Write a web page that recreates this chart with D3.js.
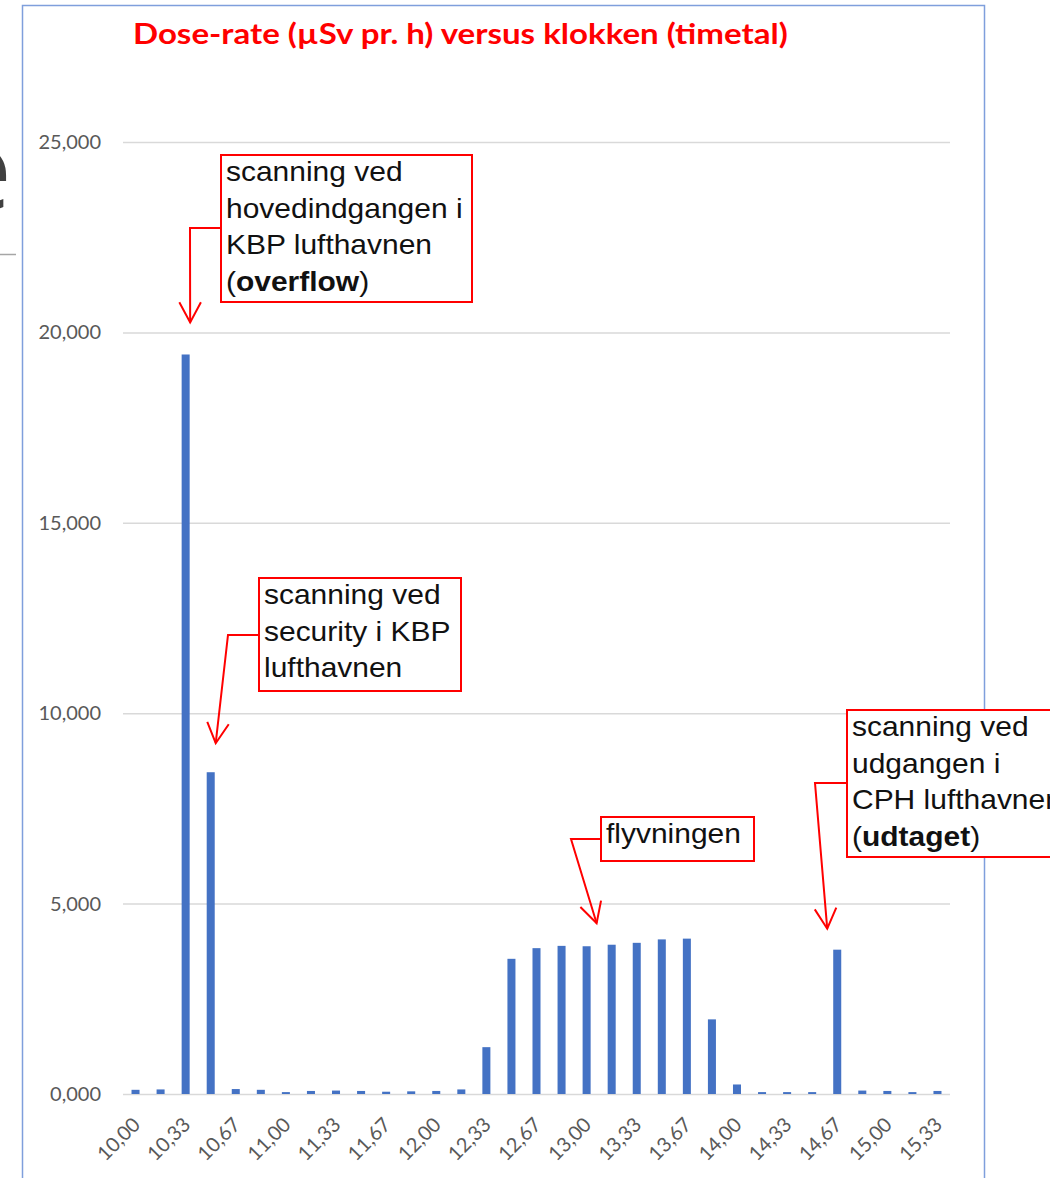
<!DOCTYPE html>
<html>
<head>
<meta charset="utf-8">
<script src="https://cdn.jsdelivr.net/npm/d3@7"></script>
<style>
html, body { margin: 0; padding: 0; background: #fff; }
svg { display: block; }
</style>
</head>
<body>
<svg id="chart" width="1050" height="1178"></svg>
<script>
// klokken (timetal) - hver søjle er 10 min
const categories = [
    "10,00", "10,17", "10,33", "10,50", "10,67", "10,83",
    "11,00", "11,17", "11,33", "11,50", "11,67", "11,83",
    "12,00", "12,17", "12,33", "12,50", "12,67", "12,83",
    "13,00", "13,17", "13,33", "13,50", "13,67", "13,83",
    "14,00", "14,17", "14,33", "14,50", "14,67", "14,83",
    "15,00", "15,17", "15,33"
];

// dose-rate i µSv pr. h
const doseRate = [
    0.11, 0.12, 19.42, 8.45, 0.13, 0.11,
    0.05, 0.08, 0.09, 0.08, 0.06, 0.07,
    0.08, 0.12, 1.23, 3.55, 3.83, 3.89,
    3.88, 3.92, 3.97, 4.06, 4.08, 1.96,
    0.25, 0.05, 0.05, 0.05, 3.79, 0.09,
    0.08, 0.05, 0.08
];

const yTicks = [0, 5, 10, 15, 20, 25];
const xLabels = categories.filter((d, i) => i % 2 === 0);

const title = "Dose-rate (µSv pr. h) versus klokken (timetal)";

const noteLines = [
    ["scanning ved", "hovedindgangen i", "KBP lufthavnen", "(**overflow**)"],
    ["scanning ved", "security i KBP", "lufthavnen"],
    ["flyvningen"],
    ["scanning ved", "udgangen i", "CPH lufthavnen", "(**udtaget**)"]
];
const noteTargets = ["10,33", "10,50", "13,00", "14,67"];

const svg = d3.select("#chart");

const x = d3.scaleBand()
    .domain(categories)
    .range([123, 950])
    .paddingInner(0.68)
    .paddingOuter(0.34);

const y = d3.scaleLinear()
    .domain([0, 25])
    .range([1094, 142]);

const da = d3.formatLocale({ decimal: ",", thousands: ".", grouping: [3], currency: ["", ""] });
const fmt = da.format(".3f");

// rester fra sliden til venstre
svg.append("text")
    .attr("x", 12)
    .attr("y", 210)
    .attr("text-anchor", "end")
    .style("font-family", "Open Sans")
    .style("font-size", "114px")
    .style("fill", "#404040")
    .text("e");
svg.append("line")
    .attr("x1", 0).attr("x2", 16)
    .attr("y1", 254.5).attr("y2", 254.5)
    .attr("stroke", "#a6a6a6")
    .attr("stroke-width", 1.5);

// diagramramme
svg.append("rect")
    .attr("x", 22.5)
    .attr("y", 5.5)
    .attr("width", 962)
    .attr("height", 1240)
    .attr("fill", "#fff")
    .attr("stroke", "#7f9fdc")
    .attr("stroke-width", 1.5);

svg.append("text")
    .attr("transform", "translate(133,44) scale(1.18,1)")
    .style("font-family", "Lato")
    .style("font-weight", "bold")
    .style("font-size", "28px")
    .style("fill", "#ff0000")
    .text(title);

// y-akse med gitterlinjer
const yAxis = svg.append("g")
    .attr("transform", "translate(123,0)")
    .call(d3.axisLeft(y).tickValues(yTicks).tickFormat(fmt).tickSize(-(950 - 123)).tickPadding(22));
yAxis.select(".domain").remove();
yAxis.selectAll("line").attr("stroke", "#d9d9d9").attr("stroke-width", 1.5);
yAxis.selectAll("text")
    .style("font-family", "Lato")
    .style("font-size", "20px")
    .style("fill", "#595959");

// x-akse
const xAxis = svg.append("g")
    .attr("transform", `translate(0,${y(0)})`)
    .call(d3.axisBottom(x).tickValues(xLabels).tickSize(0));
xAxis.select(".domain").remove();
xAxis.selectAll("text")
    .attr("x", 0)
    .attr("y", 0)
    .attr("dy", "0.35em")
    .attr("text-anchor", "end")
    .attr("transform", "translate(1,27) rotate(-45)")
    .style("font-family", "Lato")
    .style("font-size", "20px")
    .style("fill", "#595959");

svg.append("g")
    .selectAll("rect")
    .data(categories)
    .join("rect")
    .attr("x", d => x(d))
    .attr("y", (d, i) => y(doseRate[i]))
    .attr("width", x.bandwidth())
    .attr("height", (d, i) => y(0) - y(doseRate[i]))
    .attr("fill", "#4472c4");

// annoteringer: boks, knæk og pilespids
const noteBoxes = [
    { x: 221, y: 155, w: 251, h: 147, cy: 228, ex: 190, dx: 4.5, dy: -32 },
    { x: 259, y: 578, w: 202, h: 113, cy: 635, ex: 228, dx: 5, dy: -29 },
    { x: 601, y: 817, w: 153, h: 44, cy: 839, ex: 571, dx: 10, dy: -23 },
    { x: 847, y: 710, w: 230, h: 147, cy: 783, ex: 815, dx: -10, dy: -21 }
];

const red = "#ff0000";
const notes = svg.append("g");

noteBoxes.forEach((b, k) => {
    const cat = noteTargets[k];
    const i = categories.indexOf(cat);
    const tx = x(cat) + x.bandwidth() / 2 + b.dx;
    const ty = y(doseRate[i]) + b.dy;

    notes.append("rect")
        .attr("x", b.x).attr("y", b.y)
        .attr("width", b.w).attr("height", b.h)
        .attr("fill", "#fff")
        .attr("stroke", red)
        .attr("stroke-width", 2);

    notes.append("polyline")
        .attr("points", [[b.x, b.cy], [b.ex, b.cy], [tx, ty]].join(" "))
        .attr("fill", "none")
        .attr("stroke", red)
        .attr("stroke-width", 2);

    const len = Math.hypot(tx - b.ex, ty - b.cy);
    const ux = (tx - b.ex) / len, uy = (ty - b.cy) / len;
    const L = 23, th = 28 * Math.PI / 180;
    const arm = s => [
        tx - L * (ux * Math.cos(th) - s * uy * Math.sin(th)),
        ty - L * (uy * Math.cos(th) + s * ux * Math.sin(th))
    ];
    notes.append("polyline")
        .attr("points", [arm(1), [tx, ty], arm(-1)].join(" "))
        .attr("fill", "none")
        .attr("stroke", red)
        .attr("stroke-width", 2);

    noteLines[k].forEach((line, j) => {
        const t = notes.append("text")
            .attr("transform", `translate(${b.x + 5},${b.y + 26 + j * 36.5}) scale(1.11,1)`)
            .style("font-family", "Liberation Sans")
            .style("font-size", "27px")
            .style("fill", "#111");
        line.split("**").forEach((part, p) => {
            if (!part) return;
            t.append("tspan")
                .style("font-weight", p % 2 ? "bold" : "normal")
                .text(part);
        });
    });
});
</script>
</body>
</html>
